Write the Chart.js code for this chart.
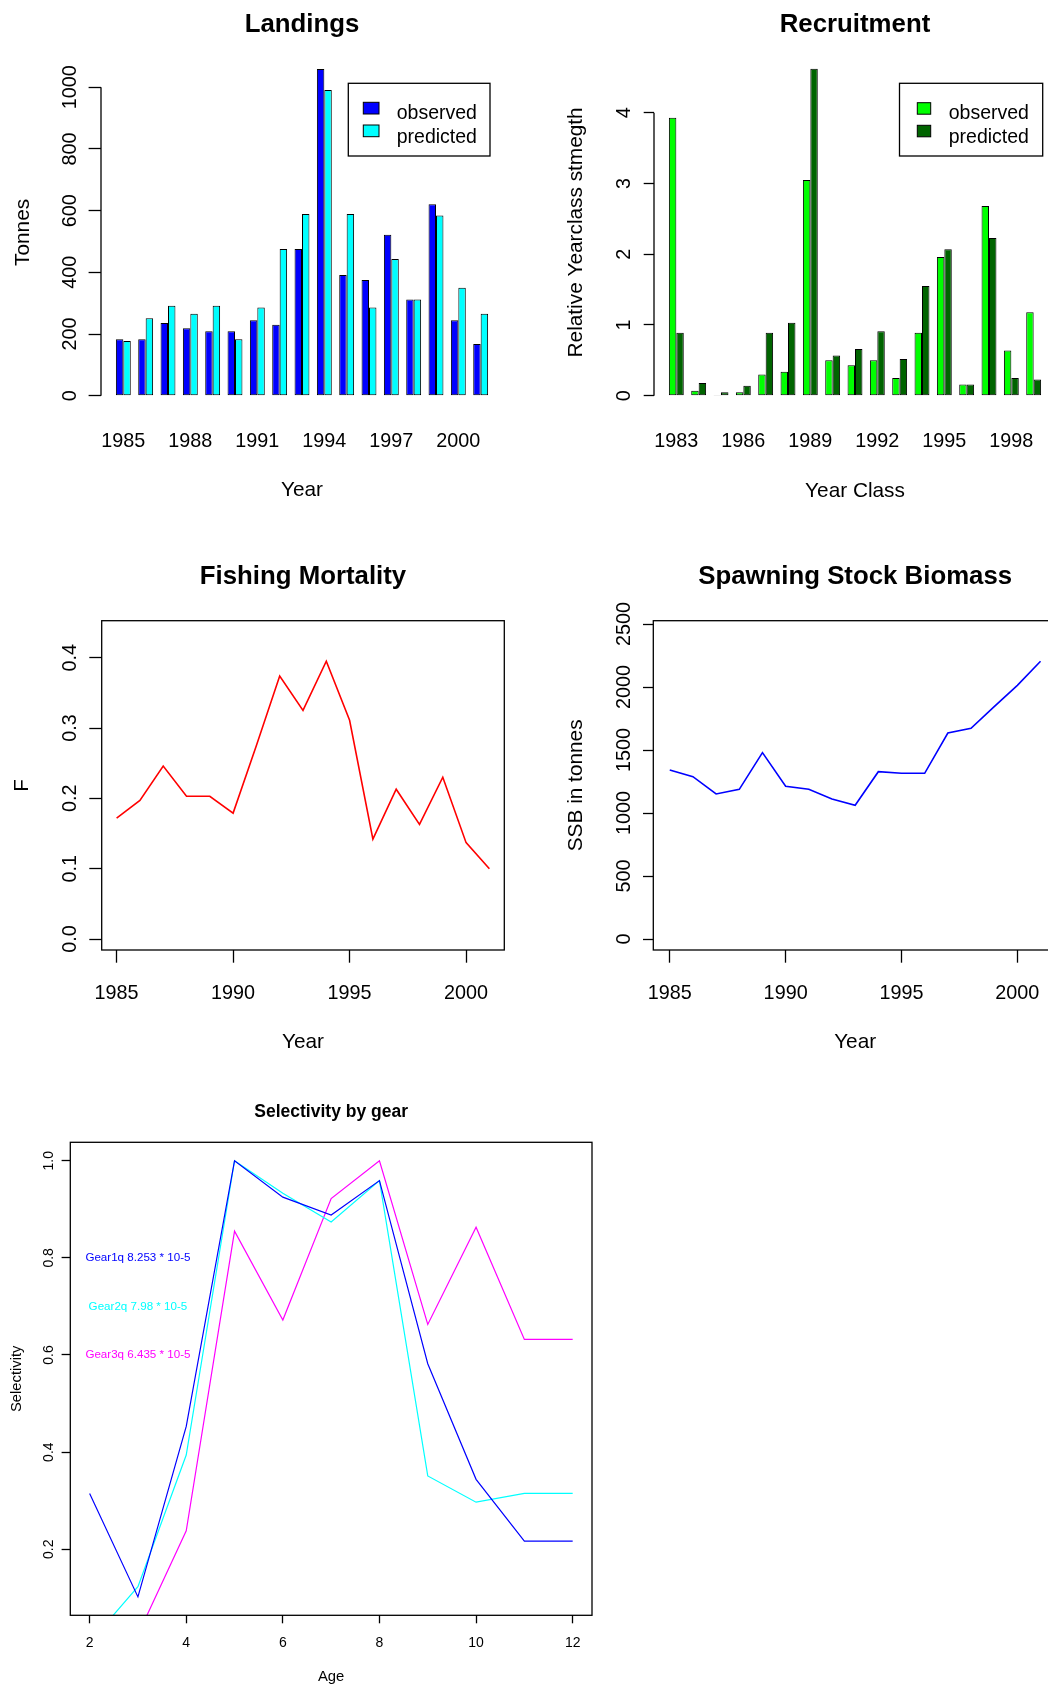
<!DOCTYPE html>
<html>
<head>
<meta charset="utf-8">
<title>Stock assessment summary</title>
<script src="https://cdn.jsdelivr.net/npm/chart.js@4/dist/chart.umd.min.js"></script>
<style>
  html, body { margin: 0; padding: 0; background: #fff; width: 1048px; height: 1684px; overflow: hidden; position: relative; }
  canvas { position: absolute; }
</style>
</head>
<body>
<canvas id="landings" width="524" height="520" style="left:0;top:0"></canvas>
<canvas id="recruit" width="560" height="520" style="left:524px;top:0"></canvas>
<canvas id="fmort" width="524" height="520" style="left:0;top:540px"></canvas>
<canvas id="ssb" width="560" height="520" style="left:524px;top:540px"></canvas>
<canvas id="select" width="620" height="604" style="left:0;top:1080px"></canvas>
<script>
// ---- Landings (tonnes) ----
const landYears = [1985, 1986, 1987, 1988, 1989, 1990, 1991, 1992, 1993, 1994, 1995, 1996, 1997, 1998, 1999, 2000, 2001];
const landObserved = [183, 183, 236, 219, 209, 209, 245, 230, 476, 1059, 391, 375, 522, 312, 621, 245, 168];
const landPredicted = [177, 251, 292, 266, 292, 183, 286, 476, 589, 991, 589, 286, 443, 312, 584, 350, 266];
const landTicks = [0, 200, 400, 600, 800, 1000];
const landYearTicks = [1985, 1988, 1991, 1994, 1997, 2000];

// ---- Recruitment (relative year-class strength) ----
const recYears = [1983, 1984, 1985, 1986, 1987, 1988, 1989, 1990, 1991, 1992, 1993, 1994, 1995, 1996, 1997, 1998, 1999];
const recObserved = [3.93, 0.07, 0.01, 0.05, 0.30, 0.34, 3.05, 0.50, 0.43, 0.50, 0.25, 0.89, 1.96, 0.16, 2.68, 0.64, 1.18];
const recPredicted = [0.89, 0.18, 0.05, 0.14, 0.89, 1.03, 4.62, 0.57, 0.66, 0.91, 0.52, 1.55, 2.07, 0.16, 2.23, 0.25, 0.23];
const recTicks = [0, 1, 2, 3, 4];
const recYearTicks = [1983, 1986, 1989, 1992, 1995, 1998];

// ---- Fishing mortality and spawning stock biomass ----
const years = [1985, 1986, 1987, 1988, 1989, 1990, 1991, 1992, 1993, 1994, 1995, 1996, 1997, 1998, 1999, 2000, 2001];
const fishingMortality = [0.172, 0.197, 0.246, 0.203, 0.203, 0.179, 0.275, 0.374, 0.325, 0.395, 0.311, 0.142, 0.213, 0.163, 0.230, 0.137, 0.100];
const fTicks = [0, 0.1, 0.2, 0.3, 0.4];
const ssbTonnes = [1341, 1288, 1151, 1188, 1479, 1212, 1188, 1111, 1061, 1328, 1315, 1315, 1635, 1672, 1844, 2013, 2204];
const ssbTicks = [0, 500, 1000, 1500, 2000, 2500];
const yearTicks = [1985, 1990, 1995, 2000];

// ---- Selectivity by gear ----
const ages = [2, 3, 4, 5, 6, 7, 8, 9, 10, 11, 12];
const selGear1 = [0.315, 0.102, 0.453, 1.0, 0.925, 0.888, 0.959, 0.582, 0.344, 0.217, 0.217];
const selGear2 = [0.008, 0.123, 0.394, 1.0, 0.933, 0.874, 0.959, 0.351, 0.297, 0.315, 0.315];
const selGear3 = [0.020, 0.024, 0.238, 0.855, 0.672, 0.922, 1.0, 0.663, 0.863, 0.632, 0.632];
const gearNotes = ['Gear1q 8.253 * 10-5', 'Gear2q 7.98 * 10-5', 'Gear3q 6.435 * 10-5'];
const selTicks = [0.2, 0.4, 0.6, 0.8, 1.0];
const ageTicks = [2, 4, 6, 8, 10, 12];

// ---------------------------------------------------------------
const FONT = '"Liberation Sans", Arial, Helvetica, sans-serif';
Chart.defaults.font.family = FONT;
Chart.defaults.color = '#000';

const measureCtx = document.createElement('canvas').getContext('2d');
function textWidth(str, size) {
  measureCtx.font = size + 'px ' + FONT;
  return measureCtx.measureText(str).width;
}
// tick padding that puts the centre of the rotated y labels at centreX
function yLabelPad(labels, size, axisRight, tick, centreX) {
  const w = Math.max(...labels.map(l => textWidth(l, size)));
  return axisRight - tick - w / 2 - centreX;
}
const pairs = (xs, ys) => xs.map((x, i) => ({ x, y: ys[i] }));

// Box around the plot region, or an axis line spanning the first to last tick
const frame = {
  id: 'frame',
  afterDatasetsDraw(chart, args, o) {
    const { ctx, chartArea: a } = chart;
    ctx.save();
    ctx.strokeStyle = '#000';
    ctx.lineWidth = 1.3;
    if (o.box) ctx.strokeRect(a.left, a.top, a.right - a.left, a.bottom - a.top);
    if (o.axisLine) {
      const ys = chart.scales.y, t = ys.ticks;
      ctx.beginPath();
      ctx.moveTo(a.left, ys.getPixelForValue(t[0].value));
      ctx.lineTo(a.left, ys.getPixelForValue(t[t.length - 1].value));
      ctx.stroke();
    }
    ctx.restore();
  }
};

// Boxed legend with filled swatches
const boxLegend = {
  id: 'boxLegend',
  afterDraw(chart, args, o) {
    if (!o.box) return;
    const ctx = chart.ctx;
    const [x, y, w, h] = o.box;
    ctx.save();
    ctx.fillStyle = '#fff';
    ctx.fillRect(x, y, w, h);
    ctx.strokeStyle = '#000';
    ctx.lineWidth = 1.3;
    ctx.strokeRect(x, y, w, h);
    ctx.font = o.fontSize + 'px ' + FONT;
    ctx.textAlign = 'left';
    ctx.textBaseline = 'alphabetic';
    chart.data.datasets.forEach((ds, i) => {
      ctx.fillStyle = ds.backgroundColor;
      ctx.fillRect(o.swatchX, o.swatchY[i], o.swatchW, o.swatchH);
      ctx.lineWidth = 1;
      ctx.strokeRect(o.swatchX, o.swatchY[i], o.swatchW, o.swatchH);
      ctx.fillStyle = '#000';
      ctx.fillText(ds.label, o.textX, o.baseline[i]);
    });
    ctx.restore();
  }
};

// Catchability notes written in each gear's colour
const notes = {
  id: 'notes',
  afterDatasetsDraw(chart, args, o) {
    if (!o.text) return;
    const { ctx, scales: { x, y } } = chart;
    ctx.save();
    ctx.font = o.fontSize + 'px ' + FONT;
    ctx.textAlign = 'center';
    ctx.textBaseline = 'middle';
    chart.data.datasets.forEach((ds, i) => {
      ctx.fillStyle = ds.borderColor;
      ctx.fillText(o.text[i], x.getPixelForValue(o.x), y.getPixelForValue(o.y[i]));
    });
    ctx.restore();
  }
};
Chart.register(frame, boxLegend, notes);

function yScale(c) {
  const labels = c.ticks.map(c.fmt);
  return {
    type: 'linear', position: 'left', min: c.min, max: c.max,
    afterBuildTicks: s => { s.ticks = c.ticks.map(v => ({ value: v })); },
    afterFit: s => { s.width = c.width; },
    border: { display: false },
    grid: { display: true, drawOnChartArea: false, drawTicks: true, tickLength: c.tick, tickColor: '#000', tickWidth: 1.3 },
    ticks: {
      autoSkip: false, minRotation: 90, maxRotation: 90, crossAlign: 'center',
      font: { size: c.size }, callback: v => c.fmt(v),
      padding: yLabelPad(labels, c.size, c.width, c.tick, c.labelX)
    },
    title: { display: true, text: c.title, font: { size: c.titleSize }, padding: { top: c.titleX - c.titleSize * 0.6, bottom: 0 } }
  };
}

function xScale(c) {
  return {
    type: 'linear', position: 'bottom', min: c.min, max: c.max, offset: false,
    afterBuildTicks: s => { s.ticks = c.ticks.map(v => ({ value: v })); },
    afterFit: s => { s.height = c.height; },
    border: { display: false },
    grid: { display: c.tick > 0, offset: false, drawOnChartArea: false, drawTicks: c.tick > 0, tickLength: c.tick, tickColor: '#000', tickWidth: 1.3 },
    ticks: {
      autoSkip: false, minRotation: 0, maxRotation: 0, font: { size: c.size },
      callback: v => String(v),
      padding: c.labelY - c.tick - c.size * 0.6
    },
    title: { display: true, text: c.title, font: { size: c.titleSize }, padding: { top: 0, bottom: c.titleFromBottom - c.titleSize * 0.6 } }
  };
}

function plotTitle(text, size, centreY, areaTop) {
  const lh = size * 1.2;
  return {
    display: true, text, fullSize: false, color: '#000',
    font: { size, weight: 'bold' },
    padding: { top: centreY - lh / 2, bottom: areaTop - centreY - lh / 2 }
  };
}

function barSet(label, xs, ys, colour) {
  return {
    label, data: pairs(xs, ys), backgroundColor: colour, borderColor: '#000',
    borderWidth: 1, borderSkipped: false, categoryPercentage: 2 / 3, barPercentage: 1
  };
}

const base = { responsive: false, animation: false, devicePixelRatio: 1, events: [] };
const fmt0 = v => String(v);
const fmt1 = v => v.toFixed(1);
const TICK = 19.8, LAB = 20.8, MAIN = 25.8;

// Landings
new Chart(document.getElementById('landings'), {
  type: 'bar',
  data: { datasets: [
    barSet('observed', landYears, landObserved, '#0000ff'),
    barSet('predicted', landYears, landPredicted, '#00ffff')
  ] },
  options: Object.assign({}, base, {
    layout: { padding: { left: 0, top: 0, right: 21, bottom: 0 } },
    plugins: {
      legend: { display: false }, tooltip: { enabled: false },
      title: plotTitle('Landings', MAIN, 24.8, 56),
      frame: { axisLine: true },
      boxLegend: { box: [348.3, 83.3, 141.7, 72.7], swatchX: 363.3, swatchW: 15.7, swatchH: 11.7,
                   swatchY: [102.3, 125], textX: 396.7, baseline: [119.3, 142.7], fontSize: 19.5 }
    },
    scales: {
      x: xScale({ min: 1984, max: 2002, ticks: landYearTicks, height: 111.2, tick: 0, size: TICK,
                  labelY: 33.2, title: 'Year', titleSize: LAB, titleFromBottom: 30 }),
      y: yScale({ min: -42.5, max: 1101.5, ticks: landTicks, fmt: fmt0, width: 101, tick: 12.4, size: TICK,
                  labelX: 71, title: 'Tonnes', titleSize: LAB, titleX: 23.7 })
    }
  })
});

// Recruitment
new Chart(document.getElementById('recruit'), {
  type: 'bar',
  data: { datasets: [
    barSet('observed', recYears, recObserved, '#00ff00'),
    barSet('predicted', recYears, recPredicted, '#006400')
  ] },
  options: Object.assign({}, base, {
    layout: { padding: { left: 0, top: 0, right: 28, bottom: 0 } },
    plugins: {
      legend: { display: false }, tooltip: { enabled: false },
      title: plotTitle('Recruitment', MAIN, 24.8, 56),
      frame: { axisLine: true },
      boxLegend: { box: [375.5, 83.3, 143.2, 72.7], swatchX: 393.3, swatchW: 13.4, swatchH: 11.5,
                   swatchY: [102.7, 125.3], textX: 424.7, baseline: [119.3, 142.7], fontSize: 19.5 }
    },
    scales: {
      x: xScale({ min: 1982, max: 2000, ticks: recYearTicks, height: 111.2, tick: 0, size: TICK,
                  labelY: 33.2, title: 'Year Class', titleSize: LAB, titleFromBottom: 28.5 }),
      y: yScale({ min: -0.185, max: 4.801, ticks: recTicks, fmt: fmt0, width: 130, tick: 10.3, size: TICK,
                  labelX: 100.5, title: 'Relative Yearclass stmegth', titleSize: LAB, titleX: 52 })
    }
  })
});

function lineSet(label, xs, ys, colour, width) {
  return { label, data: pairs(xs, ys), borderColor: colour, backgroundColor: colour,
           borderWidth: width, pointRadius: 0, tension: 0, fill: false };
}

// Fishing mortality
new Chart(document.getElementById('fmort'), {
  type: 'line',
  data: { datasets: [lineSet('F', years, fishingMortality, '#ff0000', 1.6)] },
  options: Object.assign({}, base, {
    layout: { padding: { left: 0, top: 0, right: 19.7, bottom: 0 } },
    plugins: {
      legend: { display: false }, tooltip: { enabled: false },
      title: plotTitle('Fishing Mortality', MAIN, 37, 80.7),
      frame: { box: true }
    },
    scales: {
      x: xScale({ min: 1984.36, max: 2001.64, ticks: yearTicks, height: 110, tick: 12.7, size: TICK,
                  labelY: 43.8, title: 'Year', titleSize: LAB, titleFromBottom: 18 }),
      y: yScale({ min: -0.01564, max: 0.45261, ticks: fTicks, fmt: fmt1, width: 101.7, tick: 12.4, size: TICK,
                  labelX: 71, title: 'F', titleSize: LAB, titleX: 22.2 })
    }
  })
});

// Spawning stock biomass
new Chart(document.getElementById('ssb'), {
  type: 'line',
  data: { datasets: [lineSet('SSB', years, ssbTonnes, '#0000ff', 1.6)] },
  options: Object.assign({}, base, {
    layout: { padding: { left: 0, top: 0, right: 27, bottom: 0 } },
    plugins: {
      legend: { display: false }, tooltip: { enabled: false },
      title: plotTitle('Spawning Stock Biomass', MAIN, 37, 80.7),
      frame: { box: true }
    },
    scales: {
      x: xScale({ min: 1984.29, max: 2001.71, ticks: yearTicks, height: 110, tick: 12.7, size: TICK,
                  labelY: 43.8, title: 'Year', titleSize: LAB, titleFromBottom: 17.5 }),
      y: yScale({ min: -87.3, max: 2526.2, ticks: ssbTicks, fmt: fmt0, width: 129.3, tick: 10.3, size: TICK,
                  labelX: 100.5, title: 'SSB in tonnes', titleSize: LAB, titleX: 52 })
    }
  })
});

// Selectivity by gear
new Chart(document.getElementById('select'), {
  type: 'line',
  data: { datasets: [
    lineSet('Gear1', ages, selGear1, '#0000ff', 1.2),
    lineSet('Gear2', ages, selGear2, '#00ffff', 1.2),
    lineSet('Gear3', ages, selGear3, '#ff00ff', 1.2)
  ] },
  options: Object.assign({}, base, {
    layout: { padding: { left: 0, top: 0, right: 28, bottom: 0 } },
    plugins: {
      legend: { display: false }, tooltip: { enabled: false },
      title: plotTitle('Selectivity by gear', 17.5, 31.7, 62.3),
      frame: { box: true },
      notes: { text: gearNotes, x: 3, y: [0.8, 0.7, 0.6], fontSize: 11.6 }
    },
    scales: {
      x: xScale({ min: 1.6, max: 12.4, ticks: ageTicks, height: 68.7, tick: 8, size: 14,
                  labelY: 27.5, title: 'Age', titleSize: 14.8, titleFromBottom: 7.5 }),
      y: yScale({ min: 0.0641, max: 1.0379, ticks: selTicks, fmt: fmt1, width: 70.3, tick: 8.7, size: 14,
                  labelX: 49.5, title: 'Selectivity', titleSize: 14.8, titleX: 16.5 })
    }
  })
});
</script>
</body>
</html>
